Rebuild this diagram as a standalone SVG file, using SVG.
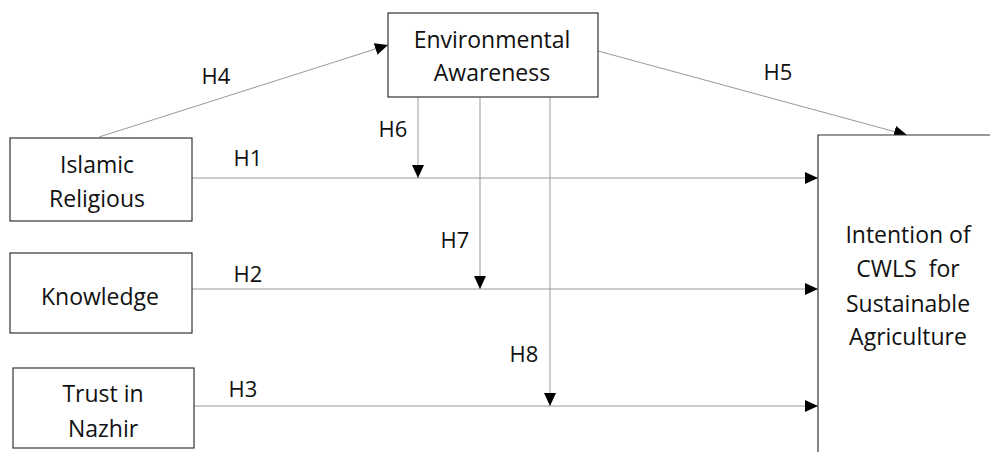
<svg xmlns="http://www.w3.org/2000/svg" width="990" height="452" viewBox="0 0 990 452">
<style>
.box{fill:#fff;stroke:#333;stroke-width:1.2}
.t{font-family:"Open Sans","Liberation Sans",sans-serif;font-size:23px;fill:#111;text-anchor:middle}
.h{font-size:22px}
.c{stroke:#999;stroke-width:1;fill:none}
</style>
<defs>
<marker id="ah" markerUnits="userSpaceOnUse" markerWidth="14" markerHeight="12" refX="13" refY="6" orient="auto"><path d="M0,0 L13,6 L0,12 Z" fill="#000"/></marker>
</defs>
<rect width="990" height="452" fill="#fff"/>
<g id="connectors">
<line class="c" x1="99" y1="137" x2="388" y2="45" marker-end="url(#ah)"/>
<line class="c" x1="598" y1="51" x2="907" y2="135" marker-end="url(#ah)"/>
<line class="c" x1="192" y1="178" x2="818" y2="178" marker-end="url(#ah)"/>
<line class="c" x1="192" y1="289" x2="818" y2="289" marker-end="url(#ah)"/>
<line class="c" x1="194" y1="406" x2="818" y2="406" marker-end="url(#ah)"/>
<line class="c" x1="418" y1="97" x2="418" y2="178" marker-end="url(#ah)"/>
<line class="c" x1="480" y1="97" x2="480" y2="289" marker-end="url(#ah)"/>
<line class="c" x1="550" y1="97" x2="550" y2="406" marker-end="url(#ah)"/>
<text class="t h" x="216" y="84">H4</text>
<text class="t h" x="778" y="80">H5</text>
<text class="t h" x="393" y="137">H6</text>
<text class="t h" x="248" y="166">H1</text>
<text class="t h" x="455" y="248">H7</text>
<text class="t h" x="248" y="282">H2</text>
<text class="t h" x="524" y="362">H8</text>
<text class="t h" x="243" y="397">H3</text>
</g>
<g id="env">
<rect class="box" x="388" y="13" width="210" height="84"/>
<text class="t" x="492" y="48">Environmental</text>
<text class="t" x="492" y="81">Awareness</text>
</g>
<g id="islamic">
<rect class="box" x="10" y="138" width="182" height="83"/>
<text class="t" x="97" y="173">Islamic</text>
<text class="t" x="97" y="207">Religious</text>
</g>
<g id="knowledge">
<rect class="box" x="10" y="253" width="182" height="80"/>
<text class="t" x="100" y="305">Knowledge</text>
</g>
<g id="trust">
<rect class="box" x="13" y="368" width="181" height="80"/>
<text class="t" x="103" y="402">Trust in</text>
<text class="t" x="103" y="437">Nazhir</text>
</g>
<g id="intention">
<path class="box" d="M818,452 L818,135 L991,135"/>
<text class="t" x="908" y="243">Intention of</text>
<text class="t" x="908" y="277" xml:space="preserve">CWLS  for</text>
<text class="t" x="908" y="312">Sustainable</text>
<text class="t" x="908" y="345">Agriculture</text>
</g>
</svg>
